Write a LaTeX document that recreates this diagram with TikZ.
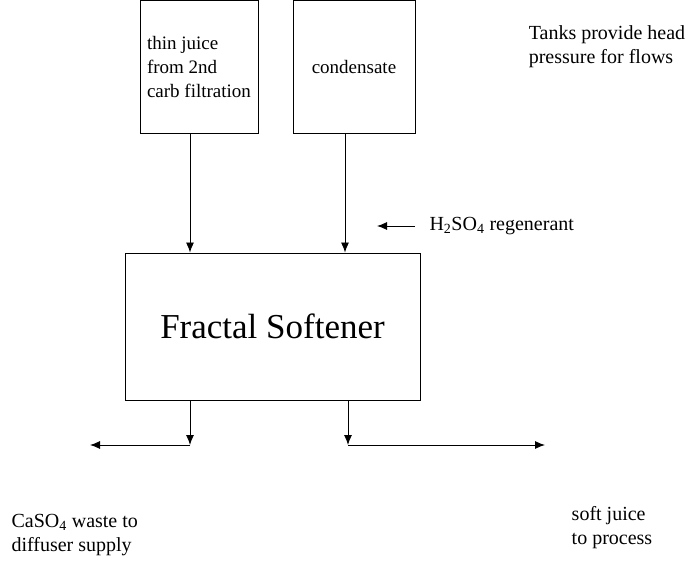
\documentclass[tikz,border=0pt]{standalone}
\usepackage{fontspec}
\setmainfont{Liberation Serif}
\usetikzlibrary{arrows.meta}
\begin{document}
\begin{tikzpicture}[x=1pt,y=-1pt,
  tank/.style={draw, line width=0.9pt, minimum height=133pt, align=left,
    font=\fontsize{19}{24}\selectfont},
  lbl/.style={font=\fontsize{20}{24}\selectfont, align=left},
  flow/.style={line width=0.9pt, -{Latex[length=10pt,width=8pt]}}]
  \useasboundingbox (0,0) rectangle (697,567);
  \node[tank, minimum width=118pt] (juice) at (199,67) {thin juice\\from 2nd\\carb filtration};
  \node[tank, minimum width=122pt] (cond) at (354,67) {condensate};
  \node[lbl] (tanks) at (607,47) {Tanks provide head\\pressure for flows};
  \node[draw, line width=0.9pt, minimum width=295pt, minimum height=147pt,
    font=\fontsize{35}{40}\selectfont] (soft) at (272.5,326.5) {Fractal Softener};
  \draw[flow] ([xshift=-9pt]juice.south) -- ([xshift=-9pt]juice.south |- soft.north);
  \draw[flow] ([xshift=-9pt]cond.south) -- ([xshift=-9pt]cond.south |- soft.north);
  \node[lbl, anchor=west] (acid) at (426,226) {H\textsubscript{2}SO\textsubscript{4} regenerant};
  \draw[flow] ([xshift=-11pt]acid.west) -- ++(-38,0);
  \coordinate (wastebend) at (190,445);
  \coordinate (wasteend) at (90,445);
  \coordinate (outbend) at (348,445);
  \coordinate (outend) at (545,445);
  \draw[flow] (soft.south -| wastebend) -- (wastebend);
  \draw[flow] (wastebend) -- (wasteend);
  \draw[flow] (soft.south -| outbend) -- (outbend);
  \draw[flow] (outbend) -- (outend);
  \node[lbl, anchor=west] (waste) at (8,535) {CaSO\textsubscript{4} waste to\\diffuser supply};
  \node[lbl] (out) at (612,528) {soft juice\\to process};
\end{tikzpicture}
\end{document}
